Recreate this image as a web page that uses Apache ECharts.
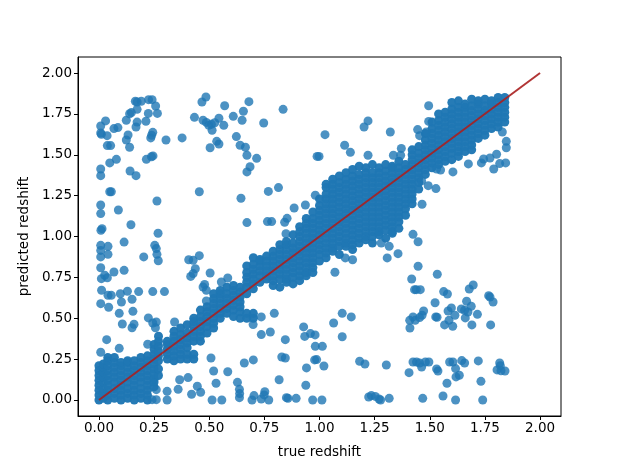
<!DOCTYPE html>
<html><head><meta charset="utf-8">
<script src="https://cdn.jsdelivr.net/npm/echarts@6/dist/echarts.min.js"></script>
<style>html,body{margin:0;padding:0;background:#fff}#c{width:624px;height:468px}</style></head>
<body><div id="c"></div>
<script>
const xTicks=[0,0.25,0.5,0.75,1,1.25,1.5,1.75,2];
const yTicks=[0,0.25,0.5,0.75,1,1.25,1.5,1.75,2];
const xName="true redshift", yName="predicted redshift";
const lineX=[0,2], lineY=[0,2];
// scattered points read individually: [true, predicted]
const outliers=[[.008,1.676],[.03,1.707],[.008,1.633],[.011,1.625],[.037,1.617],[.068,1.66],[.086,1.666],[.038,1.556],[.053,1.556],[.008,1.413],[.008,1.372],[.049,1.45],[.079,1.472],[.049,1.274],[.056,1.274],[.008,1.193],[.008,1.14],[.088,1.162],[.014,1.048],[.009,1.038],[.145,1.072],[.268,1.02],[.263,1.217],[.141,1.401],[.168,1.372],[.215,1.472],[.238,1.488],[.245,1.493],[.139,1.546],[.124,1.59],[.132,1.621],[.168,1.67],[.173,1.7],[.213,1.705],[.124,1.711],[.139,1.751],[.147,1.758],[.173,1.778],[.165,1.827],[.173,1.823],[.192,1.827],[.225,1.837],[.241,1.837],[.257,1.798],[.265,1.753],[.224,1.753],[.235,1.603],[.239,1.619],[.244,1.637],[.304,1.59],[.377,1.603],[.433,1.729],[.472,1.711],[.467,1.823],[.485,1.853],[.487,1.698],[.498,1.68],[.51,1.686],[.513,1.65],[.525,1.696],[.544,1.723],[.566,1.68],[.57,1.8],[.609,1.735],[.649,1.711],[.655,1.766],[.68,1.825],[.747,1.694],[.835,1.778],[.623,1.611],[.64,1.558],[.664,1.546],[.671,1.497],[.715,1.478],[.685,1.427],[.671,1.395],[.534,1.582],[.544,1.566],[.504,1.543],[.455,1.274],[.644,1.234],[.768,1.276],[.814,1.299],[.671,1.085],[.764,1.091],[.783,1.091],[.853,1.111],[.842,1.087],[.885,1.174],[.936,1.193],[.981,1.252],[.989,1.49],[.848,1.017],
[.008,.946],[.008,.915],[.008,.875],[.041,.94],[.041,.891],[.114,.966],[.203,.875],[.253,.946],[.26,.926],[.263,.891],[.269,.852],[.407,.858],[.427,.854],[.455,.883],[.008,.809],[.026,.763],[.011,.742],[.038,.748],[.068,.783],[.114,.793],[.012,.671],[.041,.64],[.056,.64],[.097,.65],[.129,.665],[.102,.599],[.15,.616],[.18,.663],[.244,.663],[.297,.663],[.008,.589],[.044,.567],[.092,.53],[.154,.542],[.106,.465],[.15,.442],[.159,.463],[.224,.502],[.244,.471],[.26,.477],[.256,.442],[.343,.477],[.035,.369],[.092,.316],[.221,.341],[.008,.292],[.437,.803],[.427,.773],[.416,.756],[.504,.777],[.479,.707],[.472,.691],[.487,.671],[.555,.722],[.584,.746],[.487,.606],
[.508,.257],[.52,.177],[.584,.173],[.531,.102],[.659,.226],[.7,.245],[.366,.124],[.404,.137],[.359,.065],[.446,.084],[.42,.035],[.461,.047],[.309,.053],[.309,0],[.26,.063],[.26,.002],[.241,.002],[.513,0],[.557,0],[.628,.108],[.637,.065],[.638,.039],[.637,.014],[.694,0],[.703,.027],[.752,.051],[.736,.006],[.77,0],[.749,.031],[.817,.124],[.85,.014],[.857,.01],[.894,.01],[.969,0],[.938,.09],[.941,.196],[.978,.245],[.987,.247],[.829,.263],[.845,.257],[.845,.369],[.777,.416],[.736,.4],[.928,.447],[.933,.389],[.959,.406],[.98,.398],[.981,.328],[.795,.53],[.736,.508],[.699,.461],
[1.07,.781],[1.117,.869],[1.15,.858],[1.307,.869],[1.356,.895],[1.316,.94],[1.28,.96],[1.447,.968],[1.447,.818],[1.534,.769],[1.418,.74],[1.431,.675],[1.439,.675],[1.457,.675],[1.563,.663],[1.58,.648],[1.697,.703],[1.679,.679],[1.767,.638],[1.773,.63],[1.787,.599],[1.524,.595],[1.667,.604],[1.688,.573],[1.598,.563],[1.583,.544],[1.643,.557],[1.658,.549],[1.673,.538],[1.716,.524],[1.614,.518],[1.661,.502],[1.587,.487],[1.567,.459],[1.604,.451],[1.691,.459],[1.776,.459],[1.527,.508],[1.533,.506],[1.472,.544],[1.465,.518],[1.454,.504],[1.424,.508],[1.409,.487],[1.434,.487],[1.41,.44],[1.103,.53],[1.144,.508],[1.064,.471],[1.103,.387],[1.013,.328],[1.02,.208],[1.182,.237],[1.206,.22],[1.303,.214],[1.011,0],[1.223,.018],[1.235,.027],[1.253,.022],[1.27,.006],[1.277,0],[1.316,.01],[1.468,.01],[1.56,.024],[1.617,0],[1.74,0],[1.406,.167],[1.424,.232],[1.44,.232],[1.454,.226],[1.463,.202],[1.48,.232],[1.496,.232],[1.531,.19],[1.537,.177],[1.59,.232],[1.605,.232],[1.645,.241],[1.658,.226],[1.617,.192],[1.619,.141],[1.634,.151],[1.578,.102],[1.72,.239],[1.732,.114],[1.817,.226],[1.82,.21],[1.805,.184],[1.823,.179],[1.841,.177],
[1.025,1.623],[1.114,1.558],[1.14,1.515],[.998,1.49],[1.22,1.497],[1.202,1.67],[1.22,1.707],[1.321,1.639],[1.335,1.497],[1.371,1.539],[1.368,1.497],[1.445,1.654],[1.454,1.617],[1.484,1.639],[1.495,1.8],[1.495,1.704],[1.605,1.395],[1.675,1.444],[1.734,1.45],[1.79,1.413],[1.817,1.446],[1.844,1.45],[1.803,1.503],[1.773,1.48],[1.744,1.474],[1.847,1.582],[1.847,1.543],[1.829,1.639],[1.528,1.293],[1.493,1.311],[1.463,1.34],[1.549,1.407],[1.531,1.413],[1.465,1.197],[1.424,1.013]];
// dense band read column by column: [true, [predicted...]]
const denseColumns=[
[0,[0,.03,.06,.09,.12,.15,.18,.21]],
[.02,[.01,.04,.07,.11,.14,.17,.2,.22]],
[.04,[0,.03,.06,.09,.12,.15,.18,.21,.24,.26]],
[.07,[.01,.04,.07,.11,.14,.17,.2,.23,.26]],
[.1,[0,.03,.06,.09,.12,.15,.18,.21,.23]],
[.13,[.01,.04,.07,.11,.14,.17,.2,.23,.24]],
[.16,[0,.03,.06,.09,.12,.15,.18,.21,.24]],
[.19,[.01,.04,.07,.11,.14,.17,.2,.23,.26]],
[.22,[0,.03,.06,.09,.12,.15,.18,.21,.24,.27]],
[.25,[.08,.11,.13,.16,.19,.22,.25,.28,.31,.34]],
[.27,[.15,.19,.24,.27,.3,.33,.36,.39]],
[.31,[.25,.28,.31,.34,.36]],
[.34,[.24,.27,.3,.33,.36,.39,.42]],
[.37,[.25,.28,.31,.34,.37,.4,.44]],
[.4,[.25,.28,.32,.35,.38,.41,.46]],
[.43,[.25,.28,.36,.39,.42,.45,.48,.5]],
[.46,[.36,.39,.42,.45,.48,.51,.55]],
[.49,[.41,.45,.48,.51,.54,.57]],
[.52,[.44,.47,.5,.53,.56,.59,.62,.65]],
[.55,[.5,.53,.56,.59,.62,.65,.67]],
[.58,[.53,.56,.59,.62,.65,.69]],
[.61,[.51,.55,.58,.61,.64,.67,.7]],
[.64,[.5,.54,.57,.6,.63,.66,.69]],
[.67,[.5,.53,.65,.69,.72,.75,.78,.82]],
[.7,[.5,.53,.68,.71,.74,.77,.8,.83,.87]],
[.73,[.72,.76,.79,.82,.85,.86]],
[.76,[.74,.76,.79,.82,.85,.88]],
[.79,[.7,.73,.76,.79,.82,.85,.88,.91]],
[.82,[.69,.74,.77,.8,.83,.86,.89,.92,.95]],
[.85,[.72,.74,.77,.8,.83,.86,.89,.92,.95,.97]],
[.88,[.71,.75,.78,.81,.84,.87,.9,.93,.96,1.01]],
[.91,[.73,.76,.79,.82,.85,.88,.91,.94,.97,1,1.03,1.06]],
[.94,[.76,.78,.81,.84,.87,.9,.93,.96,.99,1.02,1.05,1.08,1.11]],
[.97,[.78,.81,.84,.87,.9,.93,.96,.99,1.02,1.05,1.08,1.11,1.15]],
[1,[.85,.89,.92,.95,.98,1.01,1.04,1.07,1.1,1.13,1.16,1.19,1.23]],
[1.03,[.87,.9,.93,.96,.99,1.02,1.05,1.08,1.11,1.14,1.17,1.2,1.23,1.26,1.3,1.32]],
[1.06,[.91,.93,.96,.99,1.02,1.05,1.08,1.11,1.14,1.17,1.2,1.23,1.26,1.29,1.32,1.35]],
[1.09,[.89,.94,.97,1,1.03,1.06,1.09,1.12,1.15,1.18,1.21,1.24,1.27,1.3,1.33,1.37]],
[1.12,[.94,.96,.99,1.02,1.05,1.08,1.11,1.14,1.17,1.2,1.23,1.26,1.29,1.32,1.35,1.39]],
[1.15,[.92,.95,.98,1.01,1.04,1.07,1.1,1.13,1.16,1.19,1.22,1.25,1.28,1.31,1.34,1.37,1.41]],
[1.18,[.96,.99,1.02,1.05,1.08,1.11,1.14,1.17,1.2,1.23,1.26,1.29,1.32,1.35,1.38,1.43]],
[1.21,[.98,1,1.03,1.06,1.09,1.12,1.15,1.18,1.21,1.24,1.27,1.3,1.33,1.36,1.39,1.42]],
[1.24,[.96,1,1.03,1.06,1.09,1.12,1.15,1.18,1.21,1.24,1.27,1.3,1.33,1.36,1.39,1.44]],
[1.27,[1.01,1.03,1.06,1.09,1.12,1.15,1.18,1.21,1.24,1.27,1.3,1.33,1.36,1.39,1.42]],
[1.3,[.99,1.04,1.07,1.1,1.13,1.16,1.19,1.22,1.25,1.28,1.31,1.34,1.37,1.4,1.44]],
[1.33,[1.02,1.03,1.06,1.09,1.12,1.15,1.18,1.21,1.24,1.27,1.3,1.33,1.36,1.39,1.42,1.43]],
[1.36,[1.05,1.09,1.12,1.15,1.18,1.21,1.24,1.27,1.3,1.33,1.36,1.39,1.42,1.46]],
[1.39,[1.13,1.17,1.2,1.23,1.26,1.29,1.32,1.35,1.38,1.41,1.44]],
[1.42,[1.2,1.23,1.26,1.29,1.32,1.35,1.38,1.41,1.44,1.47,1.5,1.53]],
[1.45,[1.29,1.33,1.36,1.39,1.42,1.45,1.48,1.51,1.55]],
[1.48,[1.38,1.41,1.44,1.47,1.5,1.53,1.56,1.59,1.63]],
[1.51,[1.42,1.45,1.48,1.51,1.54,1.57,1.6,1.63,1.66,1.7]],
[1.54,[1.44,1.47,1.5,1.53,1.56,1.59,1.62,1.65,1.68,1.71,1.75]],
[1.57,[1.46,1.49,1.52,1.55,1.58,1.61,1.64,1.67,1.7,1.73,1.76]],
[1.6,[1.47,1.51,1.54,1.57,1.6,1.63,1.66,1.69,1.72,1.75,1.78,1.82]],
[1.63,[1.49,1.52,1.55,1.58,1.61,1.64,1.67,1.7,1.73,1.76,1.79,1.83]],
[1.66,[1.52,1.55,1.58,1.61,1.64,1.67,1.7,1.73,1.76,1.79,1.81]],
[1.69,[1.53,1.56,1.59,1.62,1.65,1.68,1.71,1.74,1.77,1.8,1.84]],
[1.72,[1.6,1.63,1.66,1.69,1.72,1.75,1.78,1.81,1.83]],
[1.75,[1.62,1.65,1.68,1.71,1.74,1.77,1.8,1.84]],
[1.78,[1.66,1.69,1.72,1.75,1.78,1.81,1.83]],
[1.81,[1.67,1.7,1.73,1.76,1.79,1.82,1.85]],
[1.84,[1.7,1.73,1.76,1.79,1.82,1.85]]
];
const densePoints=[];
denseColumns.forEach(c=>c[1].forEach(y=>densePoints.push([c[0],y])));
const fmt=v=>v.toFixed(2);
const tickFont={fontFamily:'DejaVu Sans',fontSize:13.5,color:'#000'};
const axisCommon={type:'value',nameLocation:'middle',
  nameTextStyle:{fontFamily:'DejaVu Sans',fontSize:13.5,color:'#000'},
  axisLine:{show:true,onZero:false,lineStyle:{color:'#000',width:1}},
  splitLine:{show:false}};
const chart=echarts.init(document.getElementById('c'),null,{renderer:'canvas'});
chart.setOption({
  animation:false,backgroundColor:'#fff',
  grid:{left:78,right:63,top:57,bottom:52,show:true,borderColor:'#000',borderWidth:1,backgroundColor:'#fff'},
  xAxis:Object.assign({},axisCommon,{min:-0.095,max:2.095,name:xName,nameGap:29,
    axisTick:{show:true,length:4,customValues:xTicks,lineStyle:{color:'#000',width:1}},
    axisLabel:Object.assign({customValues:xTicks,formatter:fmt,margin:5},tickFont)}),
  yAxis:Object.assign({},axisCommon,{min:-0.098,max:2.098,name:yName,nameGap:41,
    axisTick:{show:true,length:4,customValues:yTicks,lineStyle:{color:'#000',width:1}},
    axisLabel:Object.assign({customValues:yTicks,formatter:fmt,margin:6,padding:[4,0,0,0]},tickFont)}),
  series:[
    {type:'scatter',data:densePoints,symbolSize:9,itemStyle:{color:'#1f77b4',opacity:0.97},silent:true,progressive:0},
    {type:'scatter',data:outliers,symbolSize:9,itemStyle:{color:'#1f77b4',opacity:0.8},silent:true,progressive:0},
    {type:'line',data:lineX.map((x,i)=>[x,lineY[i]]),showSymbol:false,silent:true,z:5,
     lineStyle:{color:'#a81f1f',width:2,opacity:0.9}}
  ]
});
</script></body></html>
